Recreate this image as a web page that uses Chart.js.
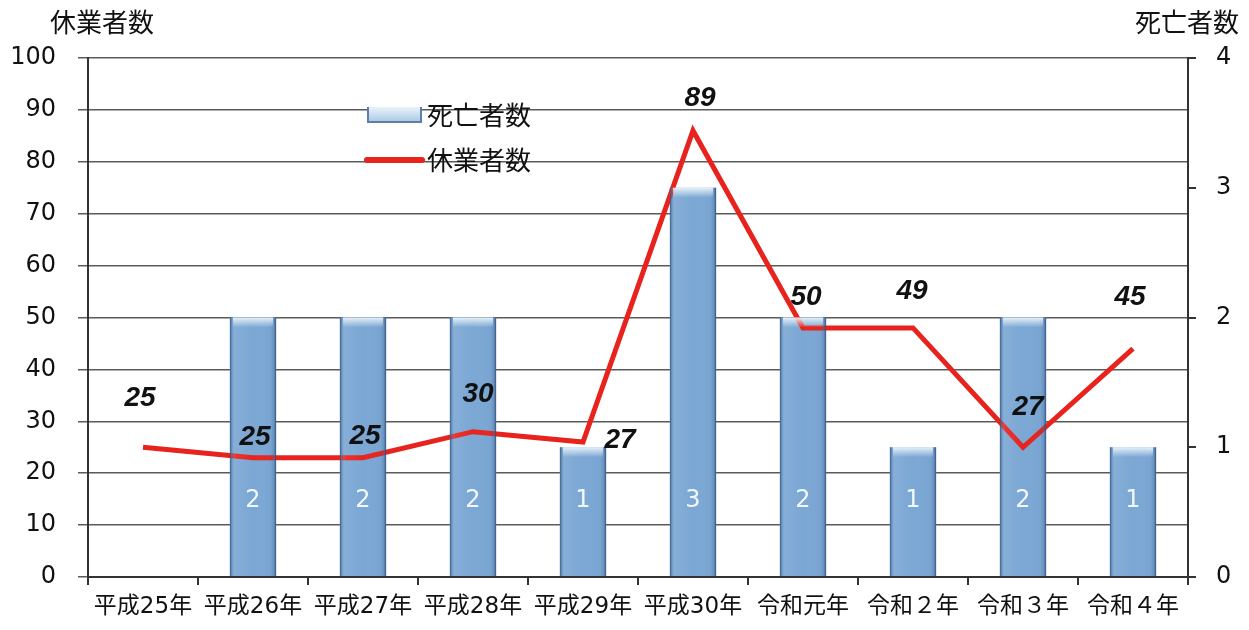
<!DOCTYPE html>
<html lang="ja">
<head>
<meta charset="utf-8">
<title>休業者数・死亡者数</title>
<script src="https://cdn.jsdelivr.net/npm/chart.js@4.4.1/dist/chart.umd.min.js"></script>
<style>
    html, body { margin: 0; padding: 0; background: #ffffff; }
    #wrap { width: 1249px; height: 630px; }
</style>
</head>
<body>
<div id="wrap"><canvas id="accidentChart" width="1249" height="630"></canvas></div>
<script>
// Chart data
const categories = ['平成25年', '平成26年', '平成27年', '平成28年', '平成29年', '平成30年', '令和元年', '令和２年', '令和３年', '令和４年'];
const deathCounts = [0, 2, 2, 2, 1, 3, 2, 1, 2, 1];
// line as plotted in the picture
const absenceCounts = [25, 23, 23, 28, 26, 86, 48, 48, 25, 44];
// numbers printed next to the line
const absenceLabels = ['25', '25', '25', '30', '27', '89', '50', '49', '27', '45'];
const leftTicks = [0, 10, 20, 30, 40, 50, 60, 70, 80, 90, 100];
const rightTicks = [0, 1, 2, 3, 4];

// hand-moved label offsets (px) from each line point
const labelOffsets = [[-3, -49], [2, -20], [2, -21], [5, -37], [37, -2], [7, -32], [3, -31], [-1, -37], [5, -40], [-3, -51]];

const JP_FONT = '"Noto Sans CJK JP", "Noto Sans", sans-serif';
const NUM_FONT = '"DejaVu Sans", "Noto Sans CJK JP", sans-serif';

/**
 * Axis titles and legend drawn on the canvas
 */
const decorPlugin = {
    id: 'decor',
    afterDraw(chart) {
        const ctx = chart.ctx;
        ctx.save();
        ctx.fillStyle = '#111';
        ctx.font = '26px ' + JP_FONT;
        ctx.textBaseline = 'middle';
        ctx.textAlign = 'left';
        ctx.fillText('休業者数', 50, 22);
        ctx.textAlign = 'right';
        ctx.fillText('死亡者数', 1239, 22);

        // legend: bar swatch
        const g = ctx.createLinearGradient(0, 107, 0, 122);
        g.addColorStop(0, '#eaf3fa');
        g.addColorStop(1, '#a9c8e4');
        ctx.fillStyle = g;
        ctx.fillRect(367, 107, 55, 15);
        ctx.strokeStyle = '#5a80aa';
        ctx.lineWidth = 2;
        ctx.beginPath();
        ctx.moveTo(368, 107);
        ctx.lineTo(368, 122);
        ctx.lineTo(421, 122);
        ctx.lineTo(421, 107);
        ctx.stroke();

        // legend: line swatch
        ctx.strokeStyle = '#e8231d';
        ctx.lineWidth = 6;
        ctx.lineCap = 'round';
        ctx.beginPath();
        ctx.moveTo(367, 160);
        ctx.lineTo(422, 160);
        ctx.stroke();

        ctx.fillStyle = '#111';
        ctx.textAlign = 'left';
        ctx.fillText('死亡者数', 427, 115);
        ctx.fillText('休業者数', 427, 160);
        ctx.restore();
    }
};

/**
 * Bar shading plus the numbers on bars and line
 */
const barLabelPlugin = {
    id: 'barLabels',
    afterDatasetsDraw(chart) {
        const ctx = chart.ctx;
        const barMeta = chart.getDatasetMeta(0);
        ctx.save();
        barMeta.data.forEach((bar, i) => {
            if (!deathCounts[i]) return;
            const left = bar.x - bar.width / 2;
            const right = bar.x + bar.width / 2;
            const top = bar.y;
            const h = bar.base - bar.y;

            const side = ctx.createLinearGradient(left, 0, right, 0);
            side.addColorStop(0, 'rgba(55,85,125,0.95)');
            side.addColorStop(0.05, 'rgba(90,130,175,0.35)');
            side.addColorStop(0.12, 'rgba(255,255,255,0.08)');
            side.addColorStop(0.5, 'rgba(255,255,255,0)');
            side.addColorStop(0.88, 'rgba(70,105,150,0.05)');
            side.addColorStop(0.95, 'rgba(70,105,150,0.35)');
            side.addColorStop(1, 'rgba(45,75,115,0.95)');
            ctx.fillStyle = side;
            ctx.fillRect(left, top, bar.width, h);

            const cap = ctx.createLinearGradient(0, top, 0, top + 10);
            cap.addColorStop(0, 'rgba(235,245,252,0.95)');
            cap.addColorStop(1, 'rgba(235,245,252,0)');
            ctx.fillStyle = cap;
            ctx.fillRect(left + 3, top, bar.width - 6, 10);

            ctx.fillStyle = 'rgba(248,252,255,0.95)';
            ctx.font = '24px ' + NUM_FONT;
            ctx.textAlign = 'center';
            ctx.textBaseline = 'middle';
            ctx.fillText(String(deathCounts[i]), bar.x, bar.base - 75);
        });

        // line value labels
        const lineMeta = chart.getDatasetMeta(1);
        ctx.fillStyle = '#111';
        ctx.font = 'italic bold 28px "Liberation Sans", Arial, sans-serif';
        ctx.textAlign = 'center';
        ctx.textBaseline = 'middle';
        lineMeta.data.forEach((pt, i) => {
            const off = labelOffsets[i];
            ctx.fillText(absenceLabels[i], pt.x + off[0], pt.y + off[1]);
        });
        ctx.restore();
    }
};

function initChart() {
    const ctx = document.getElementById('accidentChart');
    if (!ctx) return;

    new Chart(ctx, {
        type: 'bar',
        data: {
            labels: categories,
            datasets: [
                {
                    label: '死亡者数',
                    data: deathCounts,
                    yAxisID: 'y1',
                    backgroundColor: '#7ba7d4',
                    borderWidth: 0,
                    categoryPercentage: 1,
                    barPercentage: 0.42,
                    order: 2
                },
                {
                    type: 'line',
                    label: '休業者数',
                    data: absenceCounts,
                    yAxisID: 'y',
                    borderColor: '#e8231d',
                    borderWidth: 5,
                    borderJoinStyle: 'miter',
                    pointRadius: 0,
                    tension: 0,
                    order: 1
                }
            ]
        },
        options: {
            responsive: false,
            devicePixelRatio: 1,
            animation: false,
            layout: {
                padding: { top: 58, left: 0, right: 0, bottom: 0 }
            },
            plugins: {
                legend: { display: false },
                tooltip: { enabled: false }
            },
            scales: {
                x: {
                    offset: true,
                    grid: {
                        offset: true,
                        drawOnChartArea: false,
                        drawTicks: true,
                        tickLength: 8,
                        color: '#333',
                        lineWidth: 2
                    },
                    border: { display: true, color: '#333', width: 2 },
                    ticks: {
                        color: '#111',
                        padding: 8,
                        maxRotation: 0,
                        autoSkip: false,
                        font: { size: 23, family: NUM_FONT }
                    },
                    afterFit: (axis) => { axis.height = 53; }
                },
                y: {
                    position: 'left',
                    min: 0,
                    max: 100,
                    afterBuildTicks: (axis) => { axis.ticks = leftTicks.map(v => ({ value: v })); },
                    grid: {
                        color: '#5a5a5a',
                        lineWidth: 1.5,
                        tickLength: 10
                    },
                    border: { display: true, color: '#333', width: 2 },
                    ticks: {
                        color: '#111',
                        padding: 22,
                        font: { size: 24, family: NUM_FONT }
                    },
                    afterFit: (axis) => { axis.width = 88; }
                },
                y1: {
                    position: 'right',
                    min: 0,
                    max: 4,
                    afterBuildTicks: (axis) => { axis.ticks = rightTicks.map(v => ({ value: v })); },
                    grid: {
                        drawOnChartArea: false,
                        tickLength: 8,
                        color: '#333',
                        lineWidth: 2
                    },
                    border: { display: true, color: '#333', width: 2 },
                    ticks: {
                        color: '#111',
                        padding: 20,
                        font: { size: 24, family: NUM_FONT }
                    },
                    afterFit: (axis) => { axis.width = 61; }
                }
            }
        },
        plugins: [barLabelPlugin, decorPlugin]
    });
}

document.addEventListener('DOMContentLoaded', function() {
    if (typeof Chart !== 'undefined') {
        initChart();
    } else {
        console.error('Chart.js not loaded');
    }
});
</script>
</body>
</html>
